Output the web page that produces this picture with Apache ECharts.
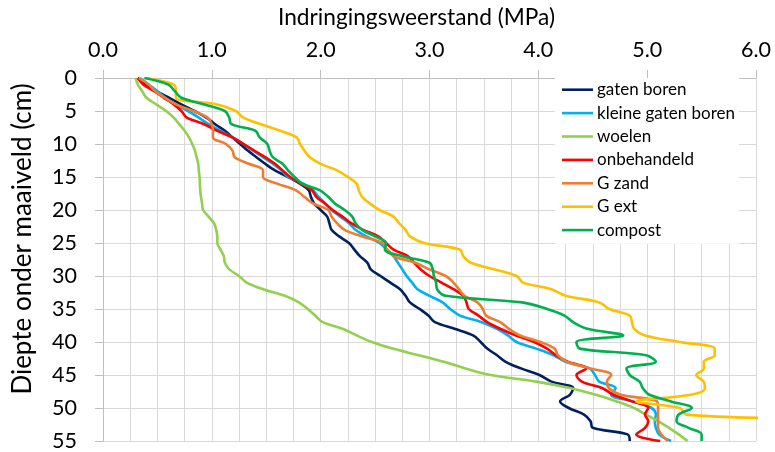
<!DOCTYPE html>
<html>
<head>
<meta charset="utf-8">
<script src="https://cdn.jsdelivr.net/npm/echarts@6/dist/echarts.min.js"></script>
<style>
html,body{margin:0;padding:0;background:#fff;}
#chart{width:775px;height:452px;}
</style>
</head>
<body>
<div id="chart"></div>
<script>
const depths = [0,1,2,3,4,5,6,7,8,9,10,11,12,13,14,15,16,17,18,19,20,21,22,23,24,25,26,27,28,29,30,31,32,33,34,35,36,37,38,39,40,41,42,43,44,45,46,47,48,49,50,51,52,53,54,55];
const seriesNames = ['gaten boren','kleine gaten boren','woelen','onbehandeld','G zand','G ext','compost'];
const gatenBoren = [0.32,0.40,0.49,0.61,0.72,0.84,0.95,1.03,1.12,1.19,1.26,1.33,1.41,1.49,1.58,1.70,1.81,1.89,1.91,1.94,2.00,2.06,2.08,2.10,2.17,2.26,2.31,2.36,2.43,2.46,2.55,2.64,2.73,2.78,2.82,2.91,2.99,3.05,3.23,3.40,3.47,3.53,3.62,3.70,3.84,4.01,4.12,4.32,4.29,4.20,4.28,4.42,4.48,4.50,4.82,4.84];
const kleineGatenBoren = [0.34,0.42,0.50,0.57,0.66,0.78,0.88,0.97,1.08,1.19,1.29,1.38,1.47,1.56,1.64,1.70,1.84,1.93,1.98,2.04,2.10,2.18,2.26,2.32,2.42,2.54,2.61,2.67,2.71,2.75,2.79,2.84,2.89,3.00,3.12,3.19,3.28,3.48,3.62,3.72,3.80,3.98,4.14,4.25,4.47,4.52,4.56,4.71,4.67,4.87,5.04,5.08,5.07,5.08,5.11,5.22];
const woelen = [0.30,0.32,0.36,0.40,0.49,0.58,0.65,0.70,0.75,0.79,0.82,0.845,0.86,0.875,0.88,0.887,0.89,0.893,0.90,0.91,0.92,0.97,1.02,1.04,1.05,1.05,1.08,1.11,1.12,1.16,1.25,1.32,1.47,1.67,1.80,1.88,1.95,2.02,2.20,2.33,2.47,2.66,2.90,3.13,3.33,3.56,3.98,4.30,4.53,4.72,4.88,4.99,5.10,5.20,5.29,5.37];
const onbehandeld = [0.32,0.37,0.47,0.56,0.65,0.72,0.77,0.93,1.05,1.19,1.29,1.39,1.49,1.58,1.65,1.72,1.82,1.92,1.96,2.04,2.11,2.20,2.28,2.39,2.53,2.60,2.67,2.80,2.86,2.92,3.00,3.11,3.22,3.31,3.34,3.36,3.45,3.53,3.65,3.79,3.96,4.08,4.16,4.27,4.44,4.35,4.40,4.59,4.69,4.86,5.01,4.98,5.01,4.98,4.90,5.12];
const gZand = [0.33,0.42,0.48,0.57,0.67,0.83,0.96,1.00,1.01,1.01,1.13,1.19,1.21,1.34,1.47,1.47,1.60,1.77,1.85,1.93,2.07,2.10,2.15,2.22,2.38,2.57,2.61,2.67,2.87,3.00,3.15,3.22,3.27,3.32,3.44,3.49,3.52,3.65,3.73,3.83,4.02,4.15,4.18,4.26,4.48,4.67,4.63,4.65,4.76,5.09,5.10,5.10,5.10,5.10,5.13,5.19];
const gExt = [0.40,0.65,0.67,0.67,1.05,1.22,1.29,1.45,1.63,1.78,1.81,1.85,1.90,2.00,2.15,2.25,2.33,2.35,2.38,2.45,2.54,2.67,2.72,2.78,2.82,2.95,3.28,3.31,3.38,3.60,3.80,3.86,4.12,4.25,4.56,4.65,4.84,4.86,4.88,4.98,5.30,5.62,5.62,5.52,5.52,5.45,5.52,5.53,5.40,4.90,5.30,5.36,6.70,6.80,6.90,7.00];
const compost = [0.38,0.60,0.66,0.72,0.93,1.12,1.16,1.18,1.40,1.44,1.51,1.53,1.56,1.65,1.70,1.76,1.83,1.99,2.07,2.13,2.22,2.29,2.32,2.38,2.50,2.60,2.59,2.75,3.00,3.03,3.04,3.06,3.07,3.15,3.85,4.08,4.24,4.32,4.45,4.78,4.35,4.38,4.99,5.08,4.81,4.84,4.93,4.96,5.02,5.22,5.41,5.29,5.27,5.38,5.50,5.50];
const xTicks = ['0.0','1.0','2.0','3.0','4.0','5.0','6.0'];
const xTitle = 'Indringingsweerstand (MPa)';
const yTitle = 'Diepte onder maaiveld (cm)';

const colors = ['#002060','#00B0F0','#92D050','#FF0000','#ED7D31','#FFC000','#00B050'];
const values = [gatenBoren,kleineGatenBoren,woelen,onbehandeld,gZand,gExt,compost];
const FONT = 'Lato';
const GRID = '#D9D9D9';

const chart = echarts.init(document.getElementById('chart'), null, {renderer:'canvas'});
chart.setOption({
  animation:false,
  color:colors,
  grid:{left:103,right:19,top:78,bottom:10,containLabel:false},
  legend:{
    orient:'vertical', left:555, top:78,
    padding:[2,4,4,7],
    backgroundColor:'#fff',
    icon:'rect',
    itemWidth:31, itemHeight:2.6, itemGap:4,
    textStyle:{fontFamily:FONT,fontSize:17,color:'#000',lineHeight:19.4,padding:[0,0,0,-1]},
    data:seriesNames
  },
  xAxis:{
    type:'value', position:'top', min:0, max:6, interval:1,
    name:xTitle, nameLocation:'middle', nameGap:49,
    nameTextStyle:{fontFamily:FONT,fontSize:22.7,color:'#000',padding:[0,26,0,0]},
    axisLine:{show:true,lineStyle:{color:'#BFBFBF',width:1}},
    axisTick:{show:true,length:8,lineStyle:{color:'#BFBFBF'}},
    axisLabel:{fontFamily:FONT,fontSize:21.5,color:'#000',margin:17,formatter:(v)=>xTicks[Math.round(v)]},
    splitLine:{show:true,lineStyle:{color:GRID,width:1}},
    minorTick:{show:false,splitNumber:4},
    minorSplitLine:{show:true,lineStyle:{color:GRID,width:1}}
  },
  yAxis:{
    type:'value', inverse:true, min:0, max:55, interval:5,
    axisLine:{show:true,lineStyle:{color:'#BFBFBF',width:1}},
    axisTick:{show:true,length:8,lineStyle:{color:'#BFBFBF'}},
    axisLabel:{fontFamily:FONT,fontSize:21.5,color:'#000',margin:26},
    splitLine:{show:true,lineStyle:{color:GRID,width:1}}
  },
  graphic:[{
    type:'text', x:23, y:239, rotation:Math.PI/2,
    style:{text:yTitle, font:'26px Lato', fill:'#000', align:'center', verticalAlign:'middle'}
  }],
  series:seriesNames.map((n,i)=>({
    name:n, type:'line', symbol:'none', smooth:0.35,
    lineStyle:{width:2.6,color:colors[i]},
    itemStyle:{color:colors[i]},
    clip:true,
    data:depths.map((d,j)=>[values[i][j], d])
  }))
});
</script>
</body>
</html>
